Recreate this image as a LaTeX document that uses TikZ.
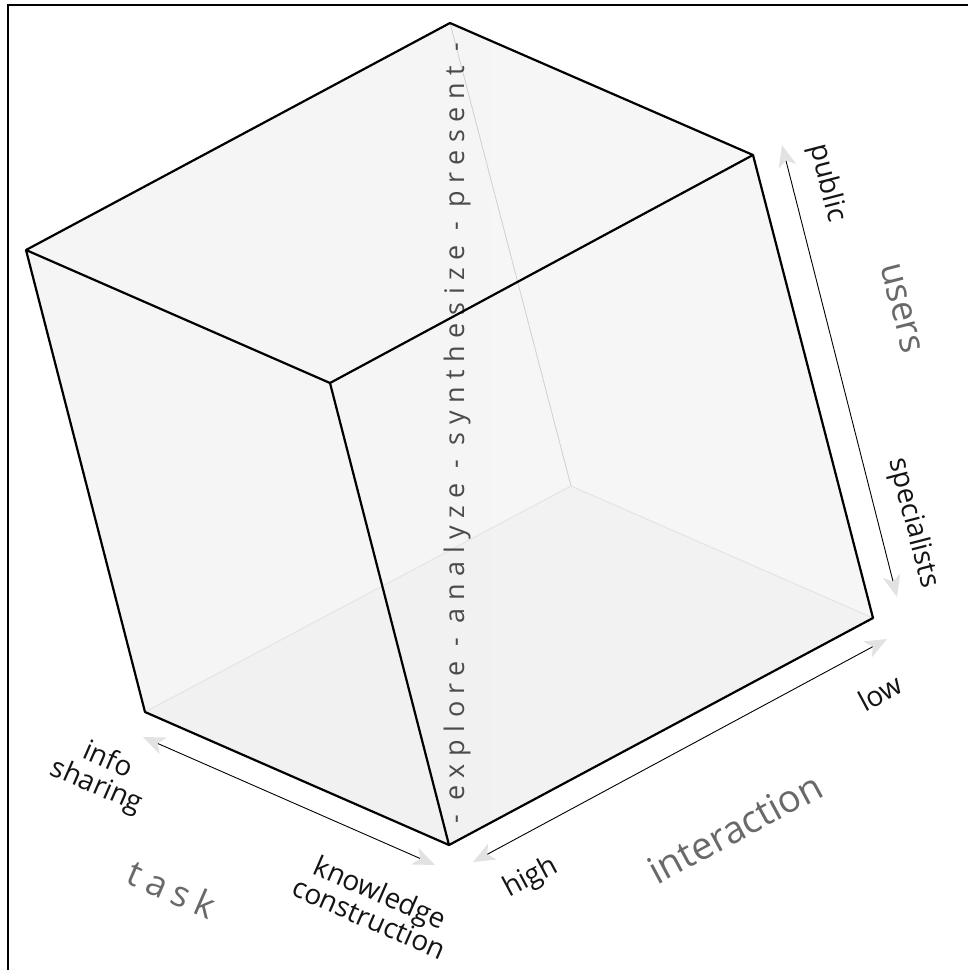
\documentclass[tikz,border=0pt]{standalone}
\usepackage{fontspec}
\setmainfont{Open Sans}
\usetikzlibrary{arrows.meta,calc}
\definecolor{tracegray}{RGB}{208,208,208}
\definecolor{backgray}{RGB}{228,228,228}
\definecolor{tipgray}{RGB}{226,226,226}
\definecolor{titlegray}{RGB}{105,105,105}
\definecolor{stagegray}{RGB}{75,75,75}
\newfontfamily\stagefont[LetterSpace=28]{Open Sans}
\newfontfamily\taskfont[LetterSpace=22]{Open Sans}

\tikzset{
  cubeedge/.style={line width=2.2pt, line join=round},
  axisarrow/.style={line width=0.9pt,
    {Stealth[length=22pt, width=18pt, inset=6pt, color=tipgray]}-{Stealth[length=22pt, width=18pt, inset=6pt, color=tipgray]}},
  endlabel/.style={font=\fontsize{28}{28}\selectfont, align=center, text=black!92, inner sep=0pt},
  axistitle/.style={font=\fontsize{36}{40}\selectfont, text=titlegray, inner sep=0pt},
}

\begin{document}
\begin{tikzpicture}[x=1pt, y=-1pt]
\useasboundingbox (0,0) rectangle (968,970);

% Frame (top and left only)
\draw[line width=2pt] (8,970) |- (968,5);

% Cube corners
\coordinate (T)  at (450,23);
\coordinate (TR) at (753,155);
\coordinate (L)  at (26,250);
\coordinate (F)  at (330,383);
\coordinate (H)  at (571,486);
\coordinate (LB) at (145,712);
\coordinate (RB) at (873,618);
\coordinate (FB) at (449,845);

% Faces
\shade[left color=gray!8, middle color=gray!2, right color=gray!7]
  (T) -- (TR) -- (RB) -- (FB) -- (LB) -- (L) -- cycle;
\fill[black, opacity=0.015] (H) -- (LB) -- (FB) -- (RB) -- cycle;

% Hidden edges
\draw[tracegray, line width=0.8pt] (T) -- (H);
\draw[backgray, line width=1pt] (LB) -- (H) -- (RB);

% Stages along the cube
\node[rotate=90, text=stagegray, inner sep=0pt, font=\stagefont\fontsize{27}{27}\selectfont] (stages) at (457,433)
  {- explore - analyze - synthesize - present -};

% Visible edges
\draw[cubeedge] (T) -- (TR) -- (RB) -- (FB) -- (LB) -- (L) -- cycle;
\draw[cubeedge] (L) -- (F) -- (TR);
\draw[cubeedge] (F) -- (FB);

% Users axis
\coordinate (ua) at (782,145);
\coordinate (ub) at (897,597);
\draw[axisarrow] (ua) -- (ub);
\node[endlabel, rotate=-75.5] (public) at (827,183) {public};
\node[axistitle, rotate=-75.5] (users) at (901,308) {users};
\node[endlabel, rotate=-75.5] (specialists) at (913,523) {specialists};

% Interaction axis
\coordinate (ia) at (887,639);
\coordinate (ib) at (473,862);
\draw[axisarrow] (ia) -- (ib);
\node[endlabel, rotate=28.2] (low) at (880,693) {low};
\node[axistitle, rotate=28.2, font=\fontsize{38}{40}\selectfont] (interaction) at (735,828) {interaction};
\node[endlabel, rotate=28.2] (high) at (531,878) {high};

% Task axis
\coordinate (ta) at (143,737);
\coordinate (tb) at (435,865);
\draw[axisarrow] (ta) -- (tb);
\node[endlabel, rotate=-23.5] (info) at (102,774) {info\\sharing};
\node[axistitle, rotate=-23.5, font=\taskfont\fontsize{36}{40}\selectfont] (task) at (172,889) {task};
\node[endlabel, rotate=-23.5] (knowledge) at (375,905) {knowledge\\construction};

\end{tikzpicture}
\end{document}
